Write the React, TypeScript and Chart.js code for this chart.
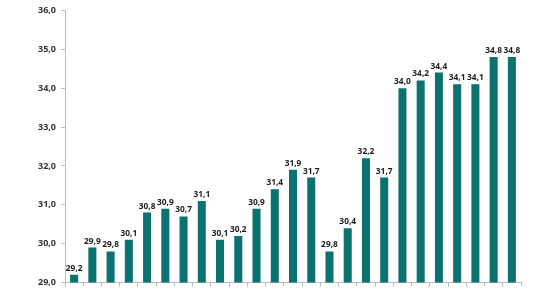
import React, { useEffect, useRef } from "react";
import { Chart, registerables } from "chart.js";

Chart.register(...registerables);

const categories: string[] = Array.from({ length: 25 }, (_, i) => String(i + 1));
const values: number[] = [29.2, 29.9, 29.8, 30.1, 30.8, 30.9, 30.7, 31.1, 30.1, 30.2, 30.9, 31.4, 31.9, 31.7, 29.8, 30.4, 32.2, 31.7, 34.0, 34.2, 34.4, 34.1, 34.1, 34.8, 34.8];
const yMin = 29;
const yMax = 36;

const FONT = "'Open Sans', 'Noto Sans', sans-serif";
const fmt = (v: number) => v.toFixed(1).replace(".", ",");

const labelPlugin = {
  id: "valueLabels",
  afterDatasetsDraw(chart: any) {
    const ctx = chart.ctx;
    const meta = chart.getDatasetMeta(0);
    meta.data.forEach((bar: any, i: number) => {
      ctx.save();
      ctx.translate(bar.x, bar.y - 2);
      ctx.scale(0.88, 1);
      ctx.font = `bold 9.5px ${FONT}`;
      ctx.fillStyle = "#1e1e1e";
      ctx.textAlign = "center";
      ctx.textBaseline = "bottom";
      ctx.fillText(fmt(values[i]), 0, 0);
      ctx.restore();
    });
  },
};

export default function App() {
  const ref = useRef<HTMLCanvasElement | null>(null);
  useEffect(() => {
    if (!ref.current) return;
    const chart = new Chart(ref.current, {
      type: "bar",
      data: {
        labels: categories,
        datasets: [
          {
            data: values,
            backgroundColor: "#0b7270",
            categoryPercentage: 1,
            barPercentage: 0.44,
          },
        ],
      },
      options: {
        animation: false,
        responsive: false,
        maintainAspectRatio: false,
        layout: { padding: { top: 10, right: 39, bottom: 0, left: 0 } },
        plugins: { legend: { display: false }, tooltip: { enabled: false } },
        scales: {
          x: {
            grid: { drawOnChartArea: false, drawTicks: true, tickLength: 4, color: "#bdbdbd", offset: true },
            border: { display: true, color: "#bdbdbd" },
            ticks: { display: false },
            afterFit: (s: any) => { s.height = 4; },
          },
          y: {
            min: yMin,
            max: yMax,
            grid: { drawOnChartArea: false, drawTicks: true, tickLength: 4, color: "#bdbdbd" },
            border: { display: true, color: "#bdbdbd" },
            ticks: {
              stepSize: 1,
              padding: 5,
              color: "#333333",
              font: { family: FONT, weight: "bold", size: 9 },
              callback: (v: any) => fmt(Number(v)),
            },
            afterFit: (s: any) => { s.width = 65; },
          },
        },
      },
      plugins: [labelPlugin],
    });
    return () => chart.destroy();
  }, []);
  return (
    <div style={{ position: "absolute", left: 0, top: 0, width: 560, height: 293, background: "#fff" }}>
      <canvas ref={ref} width={560} height={293} style={{ width: 560, height: 293 }} />
    </div>
  );
}
